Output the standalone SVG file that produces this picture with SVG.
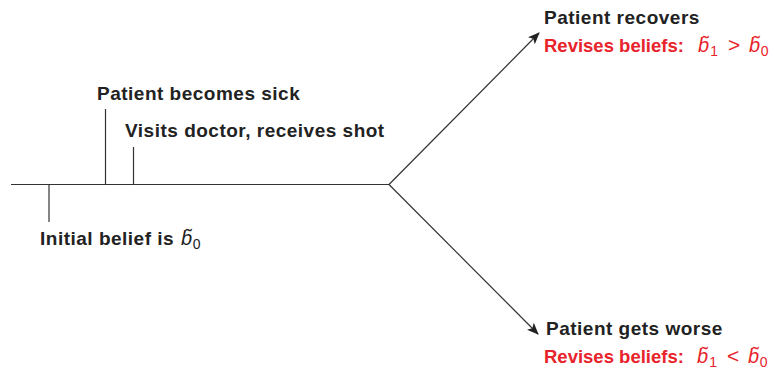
<svg xmlns="http://www.w3.org/2000/svg" width="775" height="371" viewBox="0 0 775 371">
<style>
.lbl{font-family:"Liberation Sans",Arial,sans-serif;font-weight:bold;font-size:19px;letter-spacing:0.5px;fill:#222}
.red{fill:#e8232b;font-size:18.5px;letter-spacing:0}
.mt{font-family:"Liberation Sans",Arial,sans-serif;font-weight:normal;font-size:20px}
.m{font-style:italic}
.n{font-family:"Liberation Sans",Arial,sans-serif;font-weight:normal;font-size:21px}
.sub{font-size:14px}
.ln{stroke:#333;stroke-width:1.2;fill:none}
</style>
<defs>
<marker id="ah" viewBox="0 0 12 10" refX="11" refY="5" markerWidth="12" markerHeight="10" markerUnits="userSpaceOnUse" orient="auto">
<path d="M0,0 L12,5 L0,10 L3,5 Z" fill="#222"/>
</marker>
</defs>
<g id="connectors">
<line class="ln" x1="11" y1="184.5" x2="389" y2="184.5"/>
<line class="ln" x1="49" y1="184.5" x2="49" y2="222"/>
<line class="ln" x1="105.5" y1="109" x2="105.5" y2="184.5"/>
<line class="ln" x1="133.5" y1="147" x2="133.5" y2="184.5"/>
<line class="ln" x1="389" y1="184.5" x2="539" y2="33" marker-end="url(#ah)"/>
<line class="ln" x1="389" y1="184.5" x2="538" y2="334" marker-end="url(#ah)"/>
</g>
<g id="sick"><text class="lbl" x="97" y="100">Patient becomes sick</text></g>
<g id="doctor"><text class="lbl" x="125" y="137">Visits doctor, receives shot</text></g>
<g id="initial">
<text class="lbl" x="40" y="245">Initial belief is</text>
<text class="mt" x="181" y="245" fill="#222"><tspan class="m">b</tspan><tspan dx="-7" dy="-2">˜</tspan><tspan class="sub" dx="1" dy="6">0</tspan></text>
</g>
<g id="recovers">
<text class="lbl" x="544" y="24">Patient recovers</text>
<text class="lbl red" x="544" y="52">Revises beliefs:</text>
<g fill="#e8232b">
<text class="mt" x="698" y="52"><tspan class="m">b</tspan><tspan dx="-7" dy="-2">˜</tspan><tspan class="sub" dx="1.5" dy="6">1</tspan></text>
<text class="n" x="728" y="52">&gt;</text>
<text class="mt" x="749" y="52"><tspan class="m">b</tspan><tspan dx="-7" dy="-2">˜</tspan><tspan class="sub" dx="1" dy="6">0</tspan></text>
</g>
</g>
<g id="worse">
<text class="lbl" x="546" y="335">Patient gets worse</text>
<text class="lbl red" x="544" y="363">Revises beliefs:</text>
<g fill="#e8232b">
<text class="mt" x="697" y="363"><tspan class="m">b</tspan><tspan dx="-7" dy="-2">˜</tspan><tspan class="sub" dx="1.5" dy="6">1</tspan></text>
<text class="n" x="727" y="363">&lt;</text>
<text class="mt" x="748" y="363"><tspan class="m">b</tspan><tspan dx="-7" dy="-2">˜</tspan><tspan class="sub" dx="1" dy="6">0</tspan></text>
</g>
</g>
</svg>
